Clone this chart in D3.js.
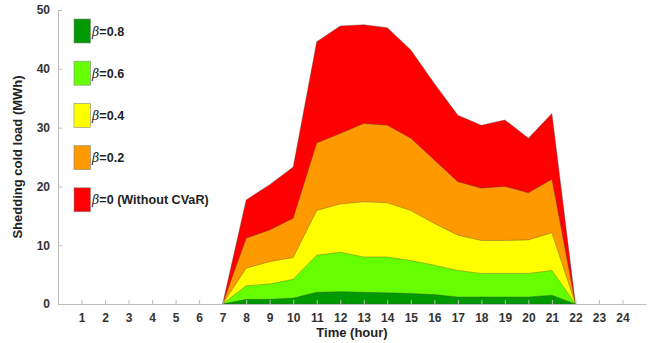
<!DOCTYPE html>
<html>
<head>
<meta charset="utf-8">
<script src="https://cdn.jsdelivr.net/npm/d3@7"></script>
<style>
  body { margin: 0; background: #fff; }
  svg text { font-family: Arial, "Liberation Sans", sans-serif; }
</style>
</head>
<body>
<div id="chart"></div>
<script>
// horas del dia
var hours = d3.range(1, 25);
// carga desconectada (MWh) para cada beta
var beta0  = [0,0,0,0,0,0,0,17.7,20.3,23.3,44.6,47.3,47.5,47.0,43.2,37.5,32.1,30.4,31.3,28.2,32.4,0,0,0];
var beta02 = [0,0,0,0,0,0,0,11.2,12.6,14.6,27.4,29.0,30.7,30.4,28.2,24.5,20.8,19.7,20.0,18.9,21.2,0,0,0];
var beta04 = [0,0,0,0,0,0,0,6.1,7.2,7.9,15.9,17.0,17.4,17.2,15.9,13.7,11.7,10.8,10.8,10.9,12.1,0,0,0];
var beta06 = [0,0,0,0,0,0,0,3.1,3.4,4.2,8.3,8.8,8.0,8.0,7.4,6.6,5.7,5.2,5.2,5.2,5.7,0,0,0];
var beta08 = [0,0,0,0,0,0,0,0.8,0.8,1.0,2.0,2.1,2.0,1.9,1.8,1.6,1.2,1.2,1.2,1.2,1.5,0,0,0];
var yTicks = [0, 10, 20, 30, 40, 50];

var series = [
  {name: "=0 (Without CVaR)", vals: beta0,  color: "#ff0000"},
  {name: "=0.2",              vals: beta02, color: "#ff9900"},
  {name: "=0.4",              vals: beta04, color: "#ffff00"},
  {name: "=0.6",              vals: beta06, color: "#66ff00"},
  {name: "=0.8",              vals: beta08, color: "#009900"}
];

var W = 657, H = 343;
var m = {izq: 58, der: 11, arr: 10, aba: 39};

var svg = d3.select("#chart").append("svg")
    .attr("width", W).attr("height", H);

var x = d3.scaleLinear().domain([0, 25]).range([m.izq, W - m.der]);
var y = d3.scaleLinear().domain([0, 50]).range([H - m.aba, m.arr]);

// areas superpuestas (no apiladas), de mayor a menor
series.forEach(function(s) {
  var pts = hours.map(function(h, i) { return {h: h, v: s.vals[i]}; });
  // solo el tramo con carga, mas un punto a cada lado
  var first = pts.findIndex(function(d) { return d.v > 0; });
  var last = pts.length - 1;
  while (last > 0 && pts[last].v === 0) last--;
  pts = pts.slice(Math.max(0, first - 1), Math.min(pts.length, last + 2));

  var area = d3.area()
      .x(function(d) { return x(d.h); })
      .y0(y(0))
      .y1(function(d) { return y(d.v); });
  svg.append("path")
      .attr("d", area(pts))
      .attr("fill", s.color)
      .attr("stroke", "#444")
      .attr("stroke-width", 0.5)
      .attr("stroke-opacity", 0.7);
});

// ejes
var ejeColor = "#bdbdbd";
var xAxis = d3.axisBottom(x).tickValues(hours).tickSizeInner(-4).tickSizeOuter(0).tickPadding(9);
var gx = svg.append("g").attr("transform", "translate(0," + y(0) + ")").call(xAxis);
var yAxis = d3.axisLeft(y).tickValues(yTicks).tickSizeInner(-4).tickSizeOuter(0).tickPadding(8);
var gy = svg.append("g").attr("transform", "translate(" + m.izq + ",0)").call(yAxis);

[gx, gy].forEach(function(g) {
  g.select(".domain").attr("stroke", ejeColor);
  g.selectAll(".tick line").attr("stroke", ejeColor);
  g.selectAll(".tick text")
      .attr("fill", "#333")
      .style("font-size", "12px")
      .style("font-weight", "bold");
});

svg.append("text")
    .attr("x", x(12.5)).attr("y", 337)
    .attr("text-anchor", "middle")
    .attr("fill", "#222")
    .style("font-size", "13px").style("font-weight", "bold")
    .text("Time (hour)");

svg.append("text")
    .attr("transform", "translate(22," + y(25) + ") rotate(-90)")
    .attr("text-anchor", "middle")
    .attr("fill", "#222")
    .style("font-size", "13px").style("font-weight", "bold")
    .text("Shedding cold load (MWh)");

// leyenda, de beta=0.8 hacia abajo
var leyenda = series.slice().reverse();
var lg = svg.append("g");
leyenda.forEach(function(s, i) {
  var ty = 19 + i * 42.2;
  lg.append("rect")
      .attr("x", 74).attr("y", ty)
      .attr("width", 16.5).attr("height", 24)
      .attr("fill", s.color)
      .attr("stroke", "#888").attr("stroke-width", 0.6);
  var t = lg.append("text")
      .attr("x", 92).attr("y", ty + 16.5)
      .attr("fill", "#222")
      .style("font-size", "12.6px").style("font-weight", "bold");
  t.append("tspan")
      .style("font-family", "'DejaVu Serif', 'Liberation Serif', serif")
      .style("font-style", "italic").style("font-weight", "normal")
      .text("β");
  t.append("tspan").text(s.name);
});
</script>
</body>
</html>
